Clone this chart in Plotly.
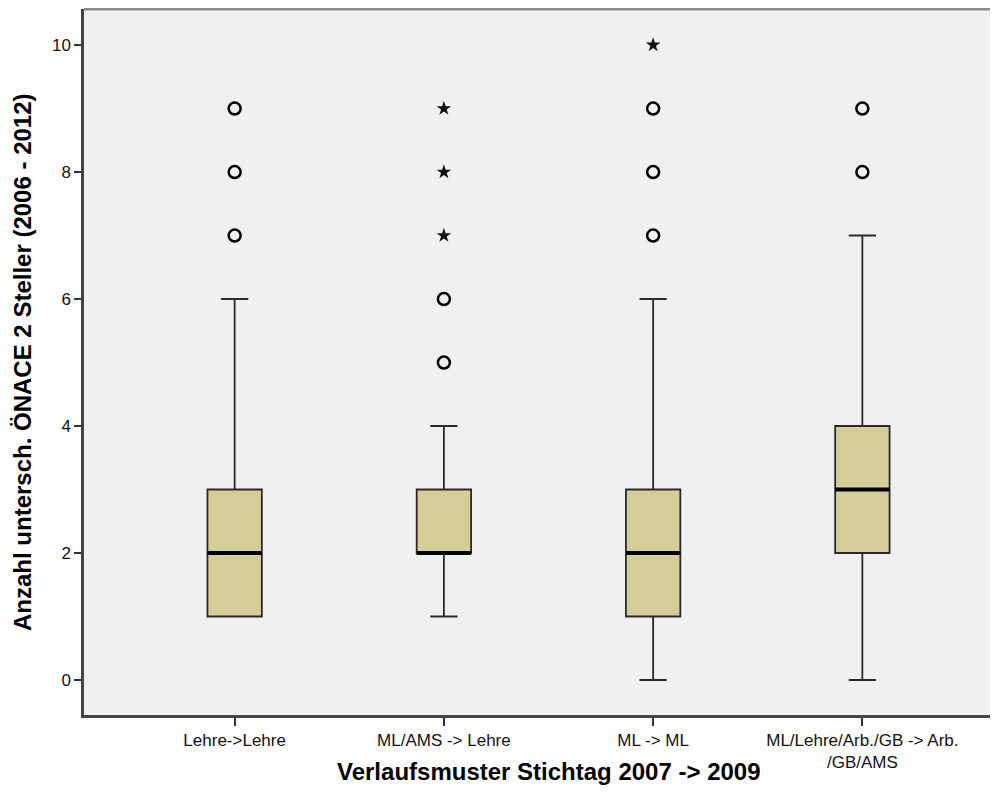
import plotly.graph_objects as go

categories = ["Lehre->Lehre", "ML/AMS -> Lehre", "ML -> ML", "ML/Lehre/Arb./GB -> Arb.<br>/GB/AMS"]
q1 = [1, 2, 1, 2]
median = [2, 2, 2, 3]
q3 = [3, 3, 3, 4]
lower = [1, 1, 0, 0]
upper = [6, 4, 6, 7]
outliers_circle = [[7, 8, 9], [5, 6], [7, 8, 9], [8, 9]]
outliers_star = [[], [7, 8, 9], [10], []]
y_ticks = [0, 2, 4, 6, 8, 10]

box_w = 0.26
fill = "#D3CE98"

fig = go.Figure()
xs = list(range(len(categories)))
fig.add_trace(go.Box(
    x=xs, q1=q1, median=median, q3=q3, lowerfence=lower, upperfence=upper,
    width=box_w, whiskerwidth=0.5, fillcolor=fill,
    line=dict(color="#2a2a2a", width=1.8), boxpoints=False, showlegend=False,
    hoverinfo="skip",
))
mx, my = [], []
for i, m in enumerate(median):
    mx += [i - box_w / 2, i + box_w / 2, None]
    my += [m, m, None]
fig.add_trace(go.Scatter(x=mx, y=my, mode="lines", line=dict(color="black", width=4),
                         showlegend=False, hoverinfo="skip"))
cx, cy, sx, sy = [], [], [], []
for i in xs:
    cx += [i] * len(outliers_circle[i]); cy += outliers_circle[i]
    sx += [i] * len(outliers_star[i]); sy += outliers_star[i]
fig.add_trace(go.Scatter(x=cx, y=cy, mode="markers",
                         marker=dict(symbol="circle-open", size=12, color="black", line=dict(width=2.5, color="black")),
                         showlegend=False, hoverinfo="skip"))
fig.add_trace(go.Scatter(x=sx, y=sy, mode="markers",
                         marker=dict(symbol="star", size=11, color="#111111", line=dict(width=0)),
                         showlegend=False, hoverinfo="skip"))

fig.update_layout(
    width=982, height=794,
    margin=dict(l=76, r=0, t=1, b=87),
    paper_bgcolor="white", plot_bgcolor="#F0F0F0",
    font=dict(family="Liberation Sans, Arial", color="black"),
    xaxis=dict(range=[-0.72, 3.61], tickmode="array", tickvals=xs, ticktext=categories,
               showgrid=False, zeroline=False, showline=True, linecolor="#444444", linewidth=2.5,
               mirror=False, ticks="outside", ticklen=8, tickcolor="#333333", tickwidth=1.5,
               tickfont=dict(size=17, color="#111111")),
    yaxis=dict(range=[-0.551, 10.567], tickmode="array", tickvals=y_ticks,
               showgrid=False, zeroline=False, showline=True, linecolor="#444444", linewidth=2.5,
               mirror=False, ticks="outside", ticklen=7, tickcolor="#333333", tickwidth=1.5,
               tickfont=dict(size=17, color="#111111")),
    shapes=[dict(type="line", xref="paper", yref="paper", x0=0, x1=1, y0=1, y1=1,
                 line=dict(color="#8a8a8a", width=3))],
    annotations=[
        dict(text="<b>Verlaufsmuster Stichtag 2007 -> 2009</b>", xref="x", yref="paper",
             x=1.5, y=0, yshift=-56, xanchor="center", yanchor="middle", showarrow=False,
             font=dict(size=24)),
        dict(text="<b>Anzahl untersch. ÖNACE 2 Steller (2006 - 2012)</b>", xref="paper", yref="paper",
             x=0, xshift=-62, y=0.5, xanchor="center", yanchor="middle", textangle=-90,
             showarrow=False, font=dict(size=24)),
    ],
)
fig.write_html("out.html")
